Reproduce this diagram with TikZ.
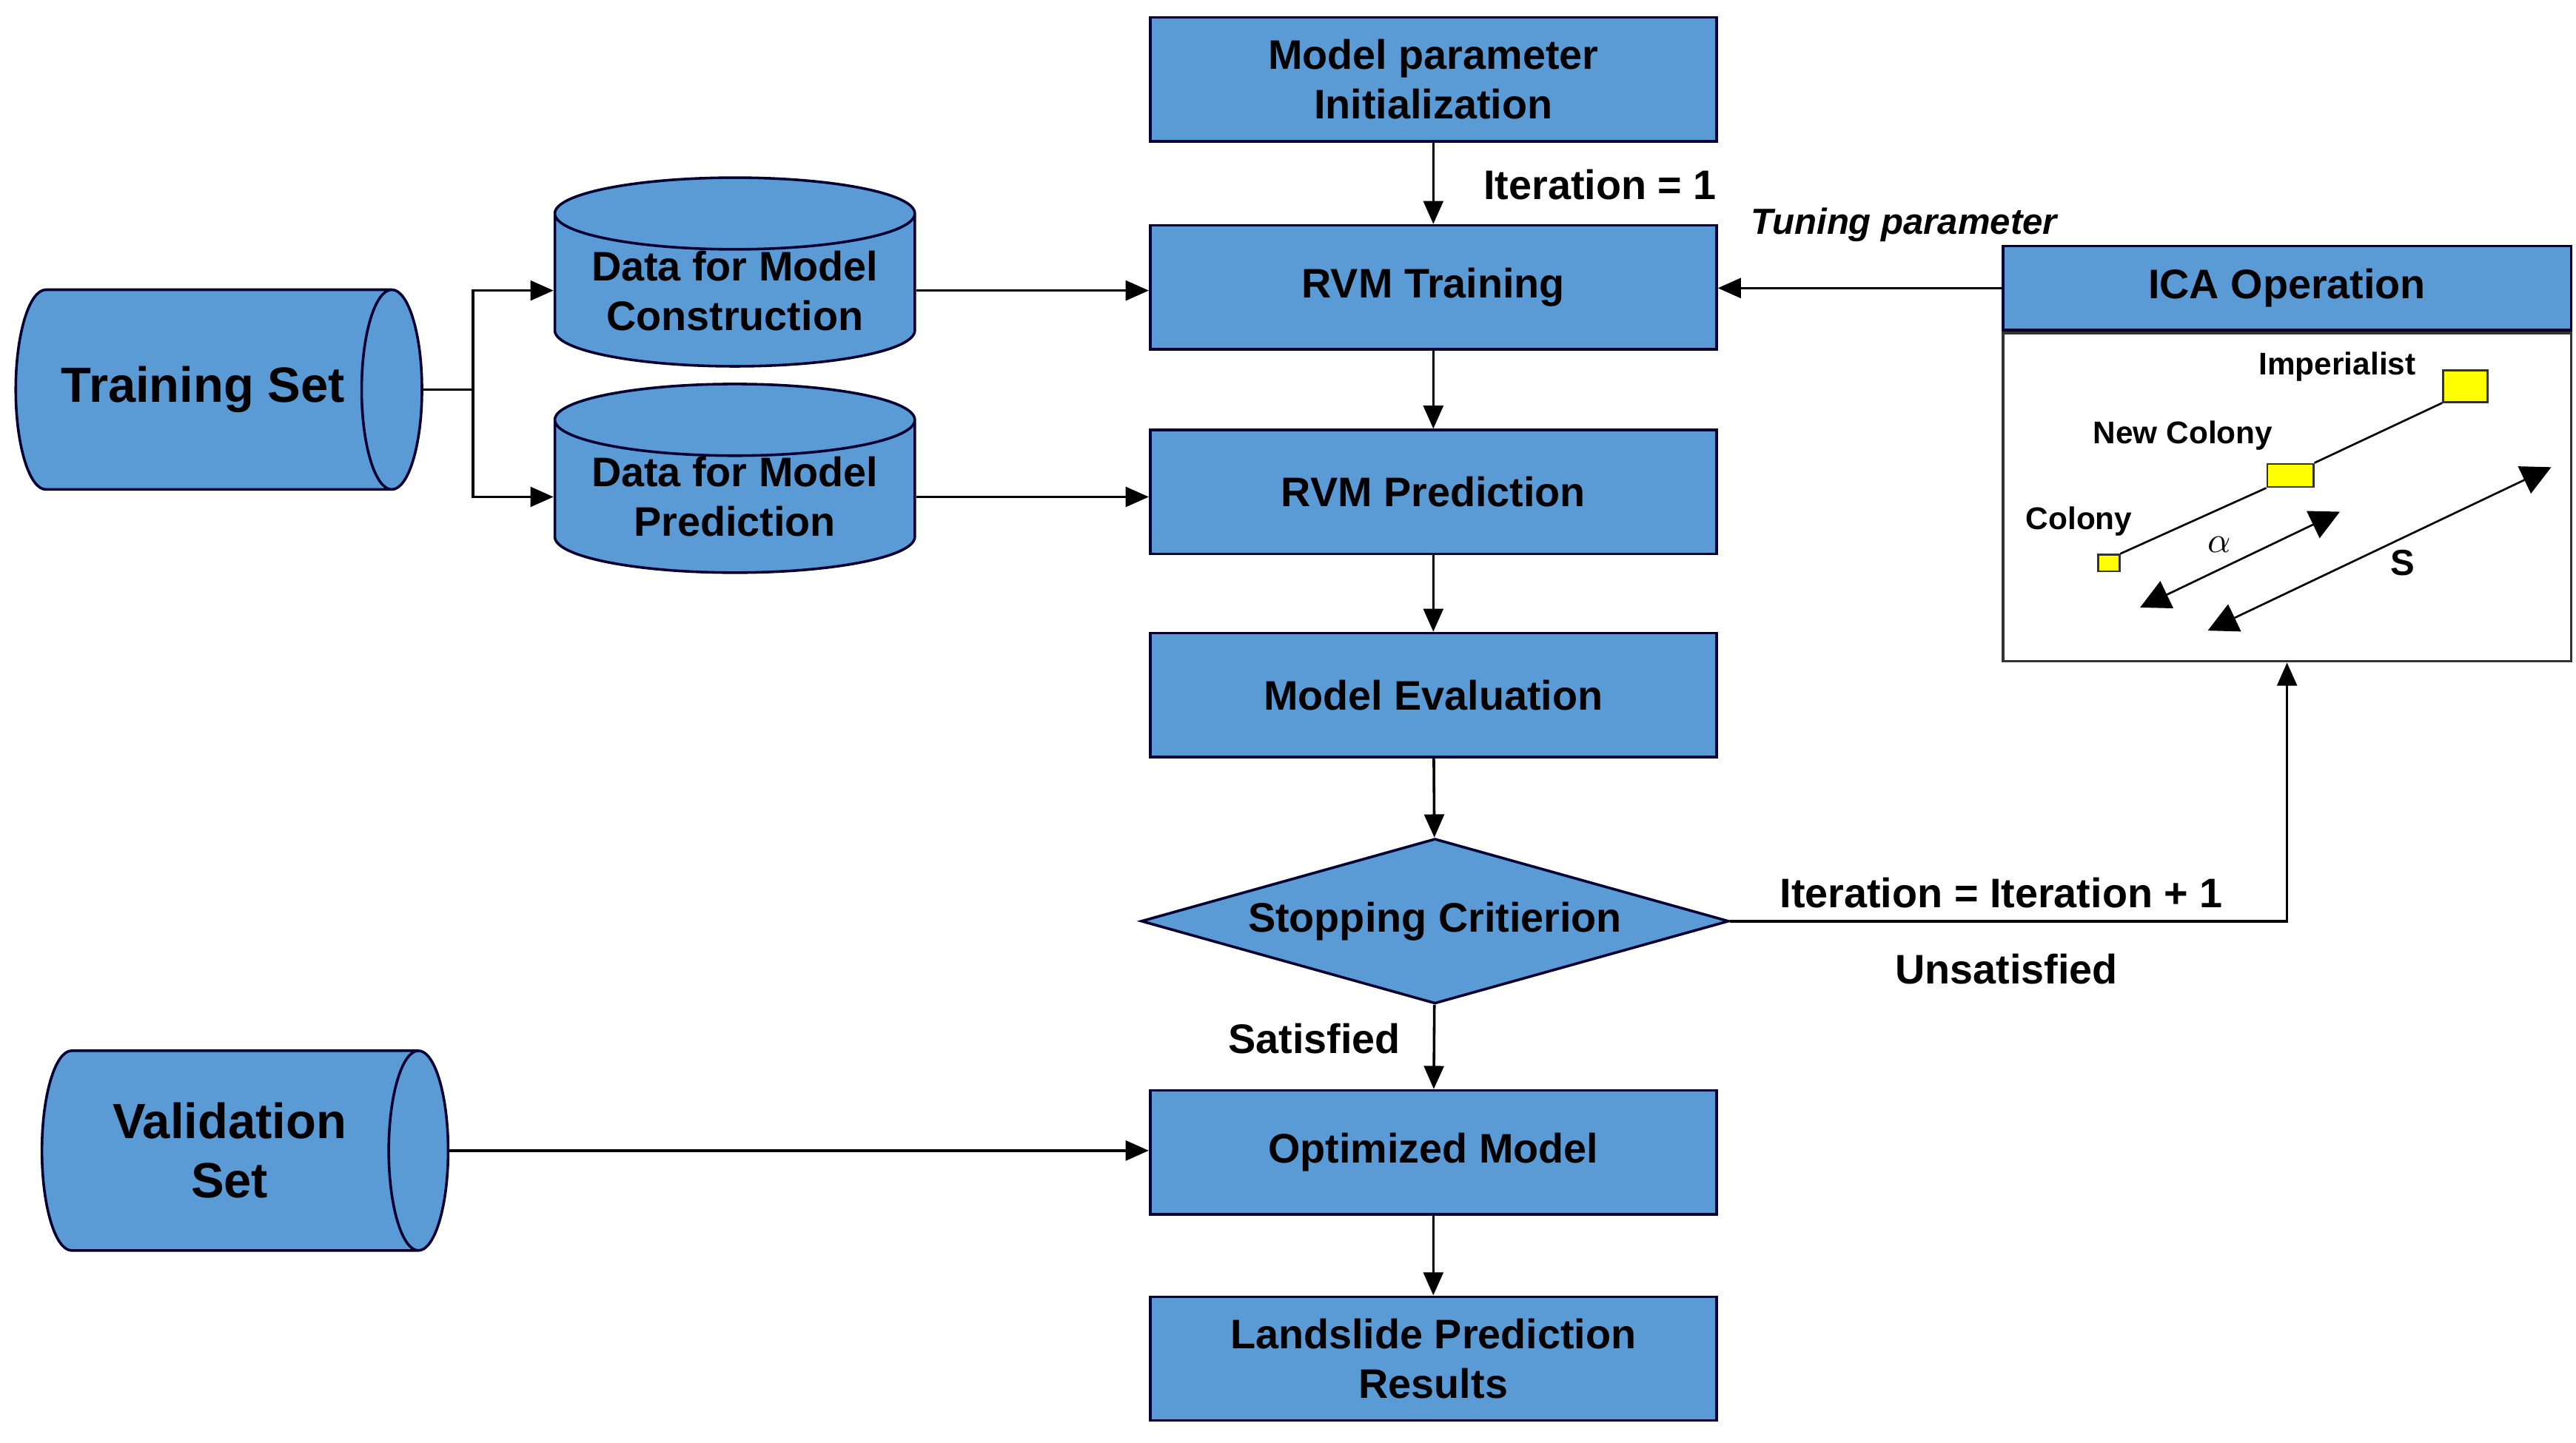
\documentclass[tikz,border=0pt]{standalone}
\usepackage{fontspec}
\setmainfont{Liberation Sans}
\usetikzlibrary{arrows.meta,shapes.geometric}

\definecolor{boxblue}{RGB}{91,155,213}
\definecolor{boxyellow}{RGB}{255,255,0}

\tikzset{
  procbox/.style={draw=black!80!blue, fill=boxblue, line width=0.8pt, minimum width=171.5pt, minimum height=37.5pt, align=center, font=\bfseries\fontsize{12.5}{15}\selectfont, inner sep=0pt},
  store/.style={draw=black!80!blue, fill=boxblue, line width=0.8pt, cylinder, shape border rotate=90, aspect=0.25, minimum width=109pt, minimum height=50pt, align=center, font=\bfseries\fontsize{12.5}{15}\selectfont, inner sep=0pt},
  dataset/.style={draw=black!80!blue, fill=boxblue, line width=0.8pt, cylinder, shape border rotate=0, aspect=1.3, minimum width=60.5pt, minimum height=123pt, align=center, font=\bfseries\fontsize{15}{18}\selectfont, inner sep=0pt},
  flow/.style={line width=0.8pt, -{Triangle[length=7pt,width=6pt]}},
  lab/.style={font=\bfseries\fontsize{12.5}{15}\selectfont},
  country/.style={draw=black!80, fill=boxyellow, line width=0.6pt, inner sep=0pt},
  small/.style={font=\bfseries\fontsize{9.5}{11}\selectfont},
  big/.style={line width=0.6pt, {Triangle[length=9pt,width=9pt]}-{Triangle[length=9pt,width=9pt]}}
}

\begin{document}
\begin{tikzpicture}[x=0.5pt,y=0.5pt,yscale=-1]
\useasboundingbox (0,0) rectangle (1560,874);

% main column
\node[procbox] (init) at (868,48) {Model parameter\\Initialization};
\node[procbox] (train) at (868,174) {RVM Training};
\node[procbox] (pred) at (868,298) {RVM Prediction};
\node[procbox] (eval) at (868,421) {Model Evaluation};
\node[draw=black!80!blue, fill=boxblue, line width=0.8pt, diamond, aspect=3.56, minimum width=178pt, minimum height=50pt, inner sep=0pt, font=\bfseries\fontsize{12.5}{15}\selectfont] (stop) at (869,558) {Stopping Critierion};
\node[procbox] (opt) at (868,698) {Optimized Model};
\node[procbox] (res) at (868,823) {Landslide Prediction\\Results};

% data sets
\node[dataset] (tset) at (123,236) {Training Set};
\node[dataset, aspect=0.62] (vset) at (139,697) {Validation\\Set};
\node[store] (dcon) at (445,176) {Data for Model\\Construction};
\node[store] (dpre) at (445,301) {Data for Model\\Prediction};

% ICA operation
\node[draw=black!80!blue, fill=boxblue, line width=0.8pt, minimum width=172pt, minimum height=25.5pt, inner sep=0pt, font=\bfseries\fontsize{12.5}{15}\selectfont] (ica) at (1385,174.5) {ICA Operation};
\node[draw=black!80, line width=0.8pt, minimum width=172pt, minimum height=99.5pt, anchor=north, inner sep=0pt] (icabody) at (ica.south) {};
\node[country, minimum width=13.5pt, minimum height=9.5pt] (imp) at (1493,234) {};
\node[country, minimum width=14pt, minimum height=7pt] (newcol) at (1387,288) {};
\node[country, minimum width=6.5pt, minimum height=5pt] (col) at (1277,341) {};
\node[small, anchor=east] at (1470,222) {Imperialist};
\node[small] at (1322,264) {New Colony};
\node[small] at (1259,316) {Colony};
\draw[line width=0.6pt] (col.north east) -- (newcol.south west);
\draw[line width=0.6pt] (newcol.north east) -- (imp.south west);
\coordinate (a1) at (1296,368);
\coordinate (a2) at (1417,310);
\coordinate (s1) at (1337,382);
\coordinate (s2) at (1545,283);
\draw[big] (a1) -- (a2);
\draw[big] (s1) -- (s2);
\node[font=\fontsize{11}{13}\selectfont] at (1344,330) {$\alpha$};
\node[font=\bfseries\fontsize{11}{13}\selectfont] at (1455,341) {S};

% connectors
\draw[flow] (init) -- (train);
\draw[flow] (train) -- (pred);
\draw[flow] (pred) -- (eval);
\draw[flow] (eval) -- (stop);
\draw[flow] (stop) -- (opt);
\draw[flow] (opt) -- (res);
\draw[flow] (tset.east) -- ++(30,0) |- (dcon.west);
\draw[flow] (tset.east) -- ++(30,0) |- (dpre.west);
\draw[flow] (dcon.east) -- (train.west |- dcon.east);
\draw[flow] (dpre.east) -- (pred.west |- dpre.east);
\draw[flow] (vset.east) -- (opt.west |- vset.east);
\draw[flow] (ica.west) -- (train.east |- ica.west);
\draw[flow] (stop.east) -| (icabody.south);

% labels
\node[lab] at (969,112) {Iteration = 1};
\node[font=\bfseries\itshape\fontsize{11}{13}\selectfont] at (1153,136) {Tuning parameter};
\node[lab] at (1212,541) {Iteration = Iteration + 1};
\node[lab] at (1215,587) {Unsatisfied};
\node[lab] at (796,629) {Satisfied};
\end{tikzpicture}
\end{document}
